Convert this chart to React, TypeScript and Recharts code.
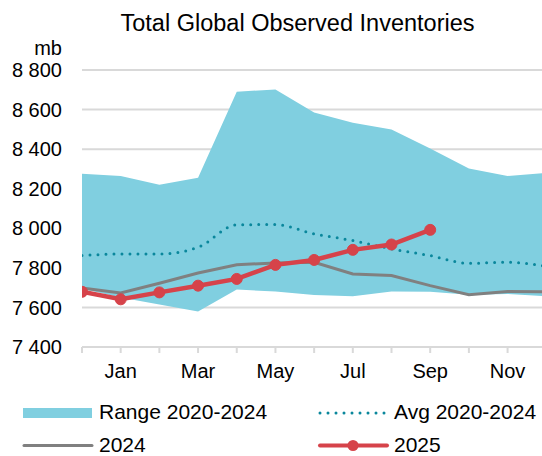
import {
  ComposedChart,
  Area,
  Line,
  XAxis,
  YAxis,
  CartesianGrid,
} from "recharts";

const months = ["Dec", "Jan", "Feb", "Mar", "Apr", "May", "Jun", "Jul", "Aug", "Sep", "Oct", "Nov", "Dec"];
const tickLabels = ["", "Jan", "", "Mar", "", "May", "", "Jul", "", "Sep", "", "Nov"];
const yTicks = [7400, 7600, 7800, 8000, 8200, 8400, 8600, 8800];

const rangeLow = [7695, 7650, 7615, 7580, 7690, 7681, 7663, 7656, 7681, 7679, 7664, 7668, 7657];
const rangeHigh = [8276, 8264, 8220, 8256, 8690, 8702, 8585, 8533, 8499, 8403, 8302, 8264, 8280];
const avg = [7862, 7870, 7870, 7904, 8017, 8019, 7972, 7938, 7896, 7862, 7823, 7828, 7808];
const y2024 = [7698, 7673, 7722, 7774, 7816, 7825, 7828, 7769, 7761, 7710, 7664, 7681, 7679];
const y2025 = [7679, 7641, 7676, 7710, 7744, 7815, 7840, 7891, 7918, 7992];

const FONT = "'Liberation Sans', Arial, sans-serif";
const BLUE = "#80cfe0";
const TEAL = "#0a879c";
const GREY = "#808080";
const RED = "#d6434a";

const data = months.map((m, i) => ({
  i,
  month: m,
  range: [rangeLow[i], rangeHigh[i]],
  avg: avg[i],
  y2024: y2024[i],
  y2025: i < y2025.length ? y2025[i] : null,
}));

const fmt = (v: number) => {
  const s = String(v);
  return s.slice(0, s.length - 3) + " " + s.slice(-3);
};

// title, unit and legend sit on top of the chart
const Overlay = () => (
  <svg width={542} height={456} style={{ position: "absolute", left: 0, top: 0, pointerEvents: "none" }}
    fontFamily={FONT}>
    <text x={297.5} y={31} fontSize={23.5} textAnchor="middle" fill="#000">
      Total Global Observed Inventories
    </text>
    <text x={62} y={55} fontSize={20} textAnchor="end" fill="#000">mb</text>

    <rect x={23} y={408} width={69} height={10} fill={BLUE} />
    <text x={99} y={419} fontSize={21} fill="#000">Range 2020-2024</text>
    <line x1={320} y1={413} x2={385} y2={413} stroke={TEAL} strokeWidth={3}
      strokeDasharray="0 8" strokeLinecap="round" />
    <text x={394} y={419} fontSize={21} fill="#000">Avg 2020-2024</text>
    <line x1={24} y1={445.5} x2={92} y2={445.5} stroke={GREY} strokeWidth={3} strokeLinecap="round" />
    <text x={99} y={452} fontSize={21} fill="#000">2024</text>
    <line x1={320} y1={445.5} x2={387} y2={445.5} stroke={RED} strokeWidth={4} strokeLinecap="round" />
    <circle cx={353} cy={445.5} r={5.5} fill={RED} />
    <text x={394} y={452} fontSize={21} fill="#000">2025</text>
  </svg>
);

export default function App() {
  return (
    <div style={{ position: "fixed", left: 0, top: 0, width: 542, height: 456, overflow: "hidden", fontFamily: FONT, background: "#fff" }}>
      <ComposedChart
        width={542}
        height={456}
        data={data}
        margin={{ top: 70, right: 0, left: 0, bottom: 79 }}
        style={{ fontFamily: FONT }}
      >
        <CartesianGrid vertical={false} stroke="#d9d9d9" strokeWidth={2} />
        <XAxis
          dataKey="i"
          type="number"
          domain={[0, 11.89]}
          allowDataOverflow
          ticks={[0, 1, 2, 3, 4, 5, 6, 7, 8, 9, 10, 11]}
          interval={0}
          tickFormatter={(v: number) => tickLabels[v] ?? ""}
          height={30}
          tickSize={6}
          tickMargin={11}
          axisLine={{ stroke: "#d9d9d9", strokeWidth: 2 }}
          tickLine={{ stroke: "#d9d9d9", strokeWidth: 2 }}
          tick={{ fill: "#000", fontSize: 20 }}
        />
        <YAxis
          domain={[7400, 8800]}
          ticks={yTicks}
          interval={0}
          width={82}
          axisLine={false}
          tickLine={false}
          tickSize={0}
          tickMargin={20}
          tickFormatter={fmt}
          tick={{ fill: "#000", fontSize: 20 }}
        />
        <Area
          dataKey="range"
          type="linear"
          stroke="none"
          fill={BLUE}
          fillOpacity={1}
          isAnimationActive={false}
        />
        <Line
          dataKey="avg"
          type="monotone"
          stroke={TEAL}
          strokeWidth={3}
          strokeDasharray="0 8"
          strokeLinecap="round"
          dot={false}
          isAnimationActive={false}
        />
        <Line
          dataKey="y2024"
          type="linear"
          stroke={GREY}
          strokeWidth={3}
          dot={false}
          isAnimationActive={false}
        />
        <Line
          dataKey="y2025"
          type="linear"
          stroke={RED}
          strokeWidth={4.5}
          dot={{ r: 5.5, fill: RED, stroke: RED, strokeWidth: 1 }}
          isAnimationActive={false}
        />
      </ComposedChart>
      <Overlay />
    </div>
  );
}
